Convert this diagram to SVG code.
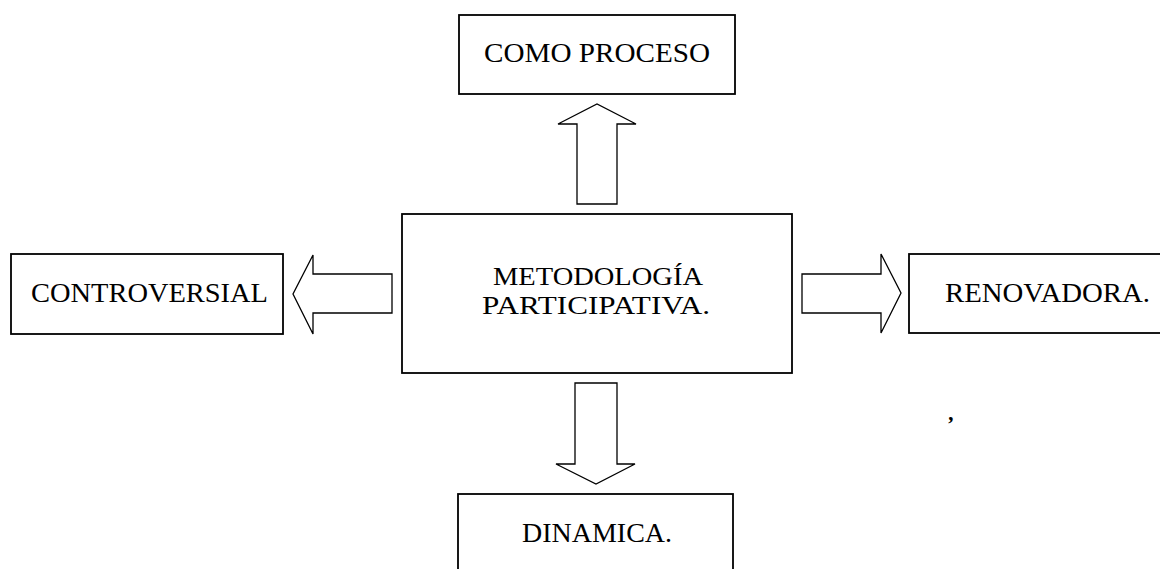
<svg xmlns="http://www.w3.org/2000/svg" width="1160" height="569" viewBox="0 0 1160 569">
<style>
.box{fill:#fff;stroke:#000;stroke-width:1.8}
.arr{fill:#fff;stroke:#000;stroke-width:1.3;stroke-linejoin:miter}
.t{font-family:"Liberation Serif","Times New Roman",serif;font-size:28px;fill:#000;text-anchor:start}
.c{font-family:"Liberation Serif","Times New Roman",serif;font-size:25px;fill:#000}
</style>
<rect width="1160" height="569" fill="#fff"/>
<g id="connectors">
<polygon class="arr" points="577,204 577,124 558,124 597,104 636,124 617,124 617,204"/>
<polygon class="arr" points="392,274 313,274 313,255 293,294 313,334 313,313 392,313"/>
<polygon class="arr" points="802,274 881,274 881,254 901,293 881,333 881,313 802,313"/>
<polygon class="arr" points="575,383 617,383 617,464 635,464 596,484 556,464 575,464"/>
</g>
<g id="center">
<rect class="box" x="402" y="214" width="390" height="159"/>
<text class="c" x="493" y="285" textLength="210" lengthAdjust="spacingAndGlyphs">METODOLOGÍA</text>
<text class="c" x="482" y="314" textLength="228" lengthAdjust="spacingAndGlyphs">PARTICIPATIVA.</text>
</g>
<g id="top">
<rect class="box" x="459" y="15" width="276" height="79"/>
<text class="t" x="484" y="62" textLength="226" lengthAdjust="spacingAndGlyphs">COMO PROCESO</text>
</g>
<g id="left">
<rect class="box" x="11" y="254" width="272" height="80"/>
<text class="t" x="31" y="302" textLength="237" lengthAdjust="spacingAndGlyphs">CONTROVERSIAL</text>
</g>
<g id="right">
<rect class="box" x="909" y="254" width="270" height="79"/>
<text class="t" x="945" y="302" textLength="205" lengthAdjust="spacingAndGlyphs">RENOVADORA.</text>
</g>
<g id="bottom">
<rect class="box" x="458" y="494" width="275" height="100"/>
<text class="t" x="522" y="542" textLength="150" lengthAdjust="spacingAndGlyphs">DINAMICA.</text>
</g>
<text x="949" y="420" font-family="Liberation Serif, serif" font-size="22" font-weight="bold" font-style="italic" fill="#000">,</text>
</svg>
